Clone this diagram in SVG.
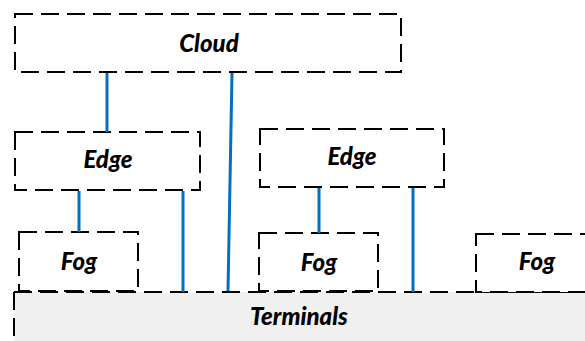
<svg xmlns="http://www.w3.org/2000/svg" width="585" height="341" viewBox="0 0 585 341">
<style>
.box{fill:#fff;stroke:#000;stroke-width:2;stroke-dasharray:18 8}
.dash{fill:none;stroke:#000;stroke-width:2;stroke-dasharray:18 8}
.lbl{font-family:Lato,"Open Sans",sans-serif;font-weight:900;font-style:italic;font-size:24px;fill:#000;text-anchor:middle}
.conn line{stroke:#0070C0;stroke-width:3}
</style>
<rect width="585" height="341" fill="#fff"/>
<g id="terminals">
<rect x="14" y="292" width="580" height="60" fill="#F0F0F0"/>
<line class="dash" x1="14" y1="292" x2="585" y2="292"/>
<line class="dash" x1="14" y1="292" x2="14" y2="341"/>
<text class="lbl" x="299" y="325">Terminals</text>
</g>
<g id="cloud">
<rect class="box" x="15" y="14" width="386" height="58"/>
<text class="lbl" x="209" y="52">Cloud</text>
</g>
<g id="edge1">
<rect class="box" x="15" y="132" width="185" height="58"/>
<text class="lbl" x="108" y="168">Edge</text>
</g>
<g id="edge2">
<rect class="box" x="260" y="129" width="184" height="58"/>
<text class="lbl" x="352" y="165">Edge</text>
</g>
<g id="fog1">
<rect class="box" x="19" y="232" width="119" height="59"/>
<text class="lbl" x="79" y="270">Fog</text>
</g>
<g id="fog2">
<rect class="box" x="259" y="233" width="119" height="58"/>
<text class="lbl" x="319" y="271">Fog</text>
</g>
<g id="fog3">
<rect class="box" x="476" y="234" width="130" height="58"/>
<text class="lbl" x="537" y="270">Fog</text>
</g>
<g id="connectors" class="conn">
<line x1="107" y1="73" x2="107" y2="132"/>
<line x1="232" y1="73" x2="228" y2="291"/>
<line x1="79" y1="191" x2="79" y2="232"/>
<line x1="183" y1="191" x2="183" y2="292"/>
<line x1="319" y1="188" x2="319" y2="233"/>
<line x1="413" y1="188" x2="413" y2="292"/>
</g>
</svg>
